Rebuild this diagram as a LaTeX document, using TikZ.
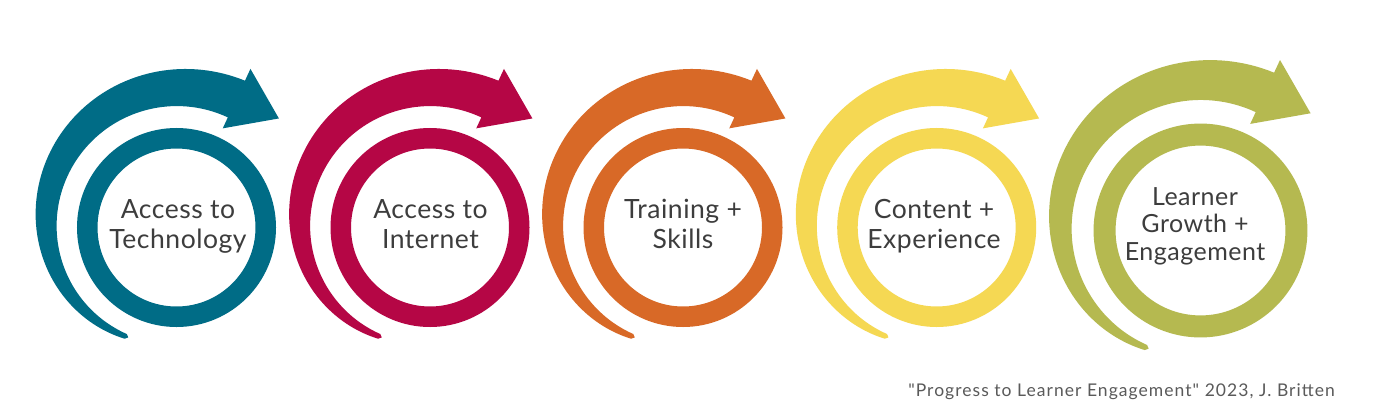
\documentclass[tikz,border=0pt]{standalone}
\usepackage{fontspec}
\setmainfont{Lato}
\newfontfamily\lblfont{Lato}[LetterSpace=2]
\newfontfamily\capfont{Lato}[Ligatures=TeXOff, LetterSpace=6]
\definecolor{cTeal}{HTML}{006C86}
\definecolor{cCrimson}{HTML}{B50645}
\definecolor{cOrange}{HTML}{D86927}
\definecolor{cYellow}{HTML}{F5D853}
\definecolor{cOlive}{HTML}{B5B950}
\definecolor{textgray}{HTML}{3D3D3D}
\definecolor{capgray}{HTML}{5A5A5A}
\tikzset{
  lbl/.style={anchor=base, text=textgray, inner sep=0pt, font=\lblfont\fontsize{26.5}{30.5}\selectfont},
  lblsmall/.style={anchor=base, text=textgray, inner sep=0pt, font=\lblfont\fontsize{25}{27.5}\selectfont},
  caption/.style={anchor=base east, text=capgray, inner sep=0pt, font=\capfont\fontsize{17.5}{20}\selectfont},
}
\newcommand{\armshape}[1]{%
  \fill[#1] (65:121.5) -- (65:109.4) -- (46.8:149.6) -- (65:175) -- (65:162)
   -- plot[domain=65:245, samples=91, variable=\t] (\t:{162-0.1385*(\t-65)-0.00045*(\t-65)*(\t-65)})
   -- (246.3:120.05)
   -- plot[domain=245:65, samples=91, variable=\t] (\t:{121.5-0.00012*(\t-65)*(\t-65)})
   -- cycle;}
\newcommand{\ringshape}[2]{\draw[#1, line width=#2] (0,0) circle (89.25);}
\begin{document}
\begin{tikzpicture}[x=1pt,y=1pt]
\useasboundingbox (0,0) rectangle (1400,408);
\fill[white] (0,0) rectangle (1400,408);
% spiral 1
\begin{scope}[shift={(176.5,180.5)}]
  \armshape{cTeal}
  \ringshape{cTeal}{20.5}
\end{scope}
\node[lbl] (t1) at (178,190) {\begin{tabular}[t]{@{}c@{}}Access to\\Technology\end{tabular}};
% spiral 2
\begin{scope}[shift={(430,180.5)}]
  \armshape{cCrimson}
  \ringshape{cCrimson}{20.5}
\end{scope}
\node[lbl] (t2) at (430.5,190) {\begin{tabular}[t]{@{}c@{}}Access to\\Internet\end{tabular}};
% spiral 3
\begin{scope}[shift={(683,180.5)}]
  \armshape{cOrange}
  \ringshape{cOrange}{20.5}
\end{scope}
\node[lbl] (t3) at (683,190) {\begin{tabular}[t]{@{}c@{}}Training +\\Skills\end{tabular}};
% spiral 4
\begin{scope}[shift={(936.7,180.5)}]
  \armshape{cYellow}
  \ringshape{cYellow}{20.5}
\end{scope}
\node[lbl] (t4) at (934,190) {\begin{tabular}[t]{@{}c@{}}Content +\\Experience\end{tabular}};
% spiral 5
\begin{scope}[shift={(1200.5,177.5)}, scale=1.075]
  \armshape{cOlive}
  \ringshape{cOlive}{22}
\end{scope}
\node[lblsmall] (t5) at (1195,203) {\begin{tabular}[t]{@{}c@{}}Learner\\Growth +\\Engagement\end{tabular}};
% caption
\node[caption] (cap) at (1335,12) {"Progress to Learner Engagement" 2023, J. Britten};
\end{tikzpicture}
\end{document}
